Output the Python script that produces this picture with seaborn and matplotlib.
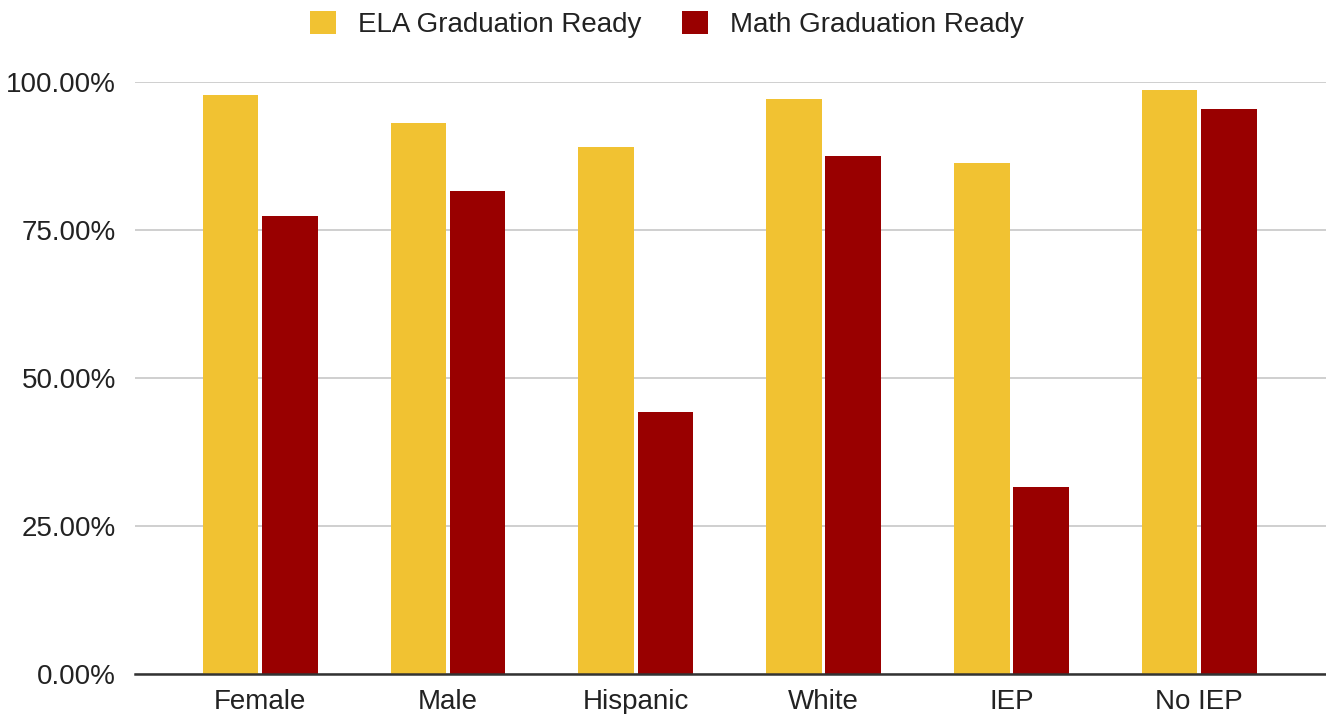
import pandas as pd
import seaborn as sns
import matplotlib.pyplot as plt
from matplotlib.ticker import PercentFormatter
from matplotlib.patches import Patch

# Data
groups = ["Female", "Male", "Hispanic", "White", "IEP", "No IEP"]
ela_ready = [0.978, 0.931, 0.891, 0.971, 0.863, 0.986]
math_ready = [0.773, 0.816, 0.443, 0.876, 0.316, 0.955]
series_names = ["ELA Graduation Ready", "Math Graduation Ready"]
colors = ["#F1C232", "#990000"]

df = pd.DataFrame({
    "Group": groups * 2,
    "Series": [series_names[0]] * len(groups) + [series_names[1]] * len(groups),
    "Value": ela_ready + math_ready,
})

sns.set_theme(style="white")
plt.rcParams["font.family"] = ["Liberation Sans", "DejaVu Sans"]

fig = plt.figure(figsize=(13.26, 7.14), dpi=100)
ax = fig.add_axes([0.102, 0.056, 0.898, 0.829])

sns.barplot(data=df, x="Group", y="Value", hue="Series", palette=colors,
            width=0.63, gap=0.06, saturation=1, legend=False,
            linewidth=0, edgecolor="none", ax=ax)

ax.set_ylim(0, 1.0)
ax.set_xlim(-0.665, 5.675)
ax.set_yticks([0, 0.25, 0.5, 0.75, 1.0])
ax.yaxis.set_major_formatter(PercentFormatter(xmax=1, decimals=2))
ax.grid(axis="y", color="#cccccc", linewidth=1.3)
ax.set_axisbelow(True)
for side in ["top", "right", "left"]:
    ax.spines[side].set_visible(False)
ax.spines["bottom"].set_color("#333333")
ax.spines["bottom"].set_linewidth(1.8)
ax.spines["bottom"].set_zorder(5)
ax.tick_params(axis="y", length=0, pad=14, labelsize=20, labelcolor="#222222")
ax.tick_params(axis="x", length=0, pad=11, labelsize=20, labelcolor="#222222")
ax.set_xlabel("")
ax.set_ylabel("")

handles = [Patch(facecolor=c, edgecolor="none") for c in colors]
fig.legend(handles, series_names, loc="center", bbox_to_anchor=(0.503, 0.966),
           ncol=2, frameon=False, fontsize=20, handlelength=0.95, handleheight=0.95,
           columnspacing=1.45, handletextpad=0.8, labelcolor="#222222")

plt.savefig("out.png", dpi=100)
